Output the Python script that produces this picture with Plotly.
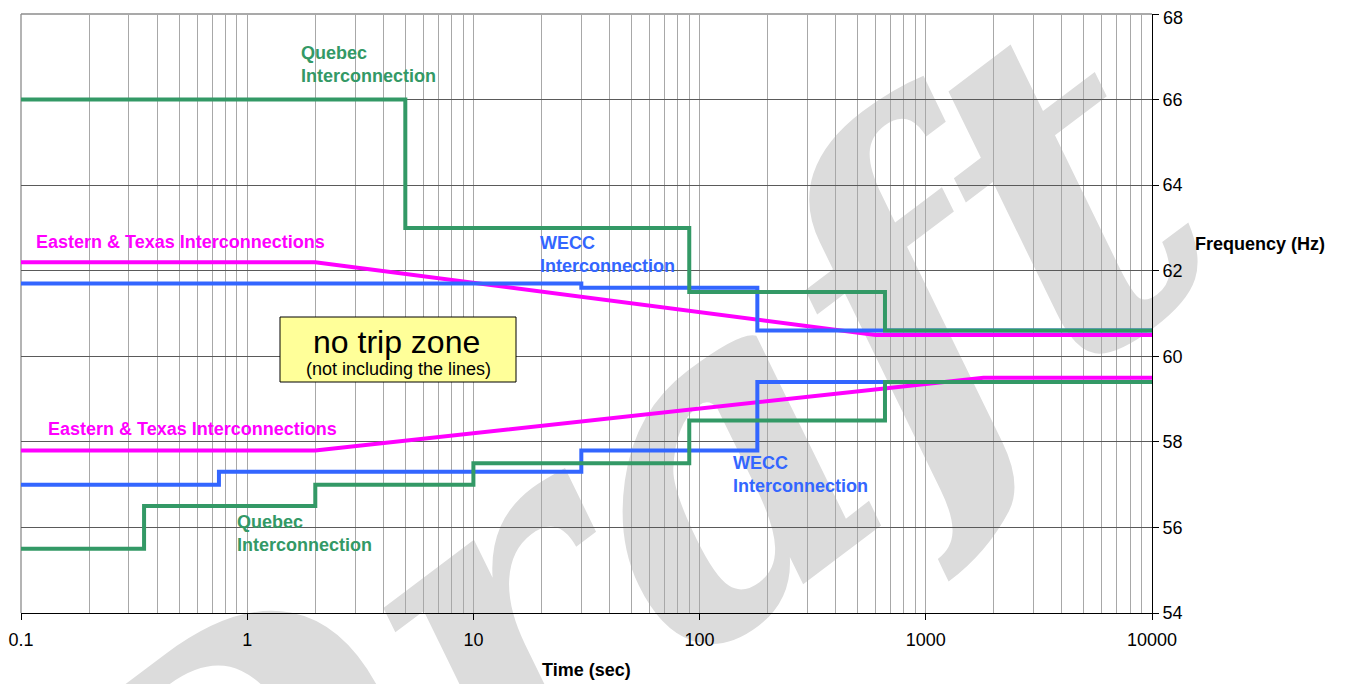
import plotly.graph_objects as go

# ---------------- data ----------------
quebec_hi_t = [0.1, 5, 90, 660, 10000]
quebec_hi_f = [66.0, 63.0, 61.5, 60.6, 60.6]
quebec_lo_t = [0.1, 0.35, 2, 10, 90, 660, 10000]
quebec_lo_f = [55.5, 56.5, 57.0, 57.5, 58.5, 59.4, 59.4]

wecc_hi_t = [0.1, 30, 180, 10000]
wecc_hi_f = [61.7, 61.6, 60.6, 60.6]
wecc_lo_t = [0.1, 0.75, 30, 180, 10000]
wecc_lo_f = [57.0, 57.3, 57.8, 59.4, 59.4]

east_hi_t = [0.1, 2, 600, 10000]
east_hi_f = [62.2, 62.2, 60.5, 60.5]
east_lo_t = [0.1, 2, 1800, 10000]
east_lo_f = [57.8, 57.8, 59.5, 59.5]

x_tickvals = [0.1, 1, 10, 100, 1000, 10000]
x_ticktext = ["0.1", "1", "10", "100", "1000", "10000"]
x_minor = [m * d for d in [0.1, 1, 10, 100, 1000] for m in range(2, 10)]
y_tickvals = [54, 56, 58, 60, 62, 64, 66, 68]
y_ticktext = ["54", "56", "58", "60", "62", "64", "66", ""]
y_top_label = "68"

# ---------------- styling ----------------
GREEN = "#339966"
PINK = "#FF00FF"
BLUE = "#3366FF"
FONT = "Liberation Sans, Arial, sans-serif"

OFF = 8                      # page body margin
W, H = 1345 - OFF, 684 - OFF
SPL, SPR, SPT, SPB = 21, 1152, 14, 613   # plot area in screen pixels


def px(x):
    return (x - SPL) / (SPR - SPL)


def py(y):
    return (SPB - y) / (SPB - SPT)


fig = go.Figure()
fig.add_trace(go.Scatter(x=east_hi_t, y=east_hi_f, mode="lines",
                         line=dict(color=PINK, width=4), hoverinfo="skip"))
fig.add_trace(go.Scatter(x=east_lo_t, y=east_lo_f, mode="lines",
                         line=dict(color=PINK, width=4), hoverinfo="skip"))
fig.add_trace(go.Scatter(x=wecc_hi_t, y=wecc_hi_f, mode="lines",
                         line=dict(color=BLUE, width=4, shape="hv"), hoverinfo="skip"))
fig.add_trace(go.Scatter(x=wecc_lo_t, y=wecc_lo_f, mode="lines",
                         line=dict(color=BLUE, width=4, shape="hv"), hoverinfo="skip"))
fig.add_trace(go.Scatter(x=quebec_hi_t, y=quebec_hi_f, mode="lines",
                         line=dict(color=GREEN, width=4, shape="hv"), hoverinfo="skip"))
fig.add_trace(go.Scatter(x=quebec_lo_t, y=quebec_lo_f, mode="lines",
                         line=dict(color=GREEN, width=4, shape="hv"), hoverinfo="skip"))

# watermark
fig.add_shape(type="rect", xref="paper", yref="paper",
              x0=px(540), x1=px(660), y0=py(545), y1=py(465),
              line=dict(width=0), fillcolor="rgba(0,0,0,0)", layer="below",
              label=dict(text="Draft", textangle=-37, textposition="middle center",
                         font=dict(family="DejaVu Serif, serif", size=450,
                                   color="#dcdcdc", style="italic", weight="bold")))

# no trip zone box
fig.add_shape(type="rect", xref="paper", yref="paper",
              x0=px(280), x1=px(516), y0=py(382), y1=py(317),
              line=dict(color="black", width=1), fillcolor="#FFFF99", layer="above")

ann = []


def label(x, y, text, color, size=18, bold=True, xanchor="left"):
    ann.append(dict(x=px(x), y=py(y), xref="paper", yref="paper", text=text,
                    showarrow=False, xanchor=xanchor, yanchor="middle", align="left",
                    font=dict(family=FONT, size=size, color=color,
                              weight="bold" if bold else "normal")))


label(299, 65, "Quebec<br>Interconnection", GREEN)
label(34, 242, "Eastern & Texas Interconnections", PINK)
label(538, 254.5, "WECC<br>Interconnection", BLUE)
label(46, 429, "Eastern & Texas Interconnections", PINK)
label(731, 474.5, "WECC<br>Interconnection", BLUE)
label(235, 533.5, "Quebec<br>Interconnection", GREEN)
label(396, 342, "no trip zone", "black", size=32, bold=False, xanchor="center")
label(398, 369, "(not including the lines)", "black", size=18, bold=False, xanchor="center")
label(586, 670, "Time (sec)", "black", size=18, xanchor="center")
label(1260, 244, "Frequency (Hz)", "black", size=18, xanchor="center")
label(1161, 18.5, y_top_label, "black", size=18, bold=False)

fig.update_layout(
    width=W, height=H,
    margin=dict(l=SPL - OFF, r=W - (SPR - OFF), t=SPT - OFF, b=H - (SPB - OFF),
                autoexpand=False),
    paper_bgcolor="white", plot_bgcolor="rgba(0,0,0,0)",
    showlegend=False,
    font=dict(family=FONT, size=18, color="black"),
    annotations=ann,
)
fig.update_xaxes(
    type="log", range=[-1, 4], automargin=False,
    tickvals=x_tickvals, ticktext=x_ticktext,
    ticks="outside", ticklen=6, tickcolor="black", tickwidth=1,
    ticklabelstandoff=4, ticklabeloverflow="allow",
    showgrid=True, gridcolor="#a8a8a8", gridwidth=1.3,
    minor=dict(tickvals=x_minor, showgrid=True, gridcolor="#a8a8a8", gridwidth=1.3, ticks=""),
    showline=True, linecolor="black", linewidth=1,
    zeroline=False, tickfont=dict(size=18),
)
fig.update_yaxes(
    range=[54, 68], side="right", tickvals=y_tickvals, ticktext=y_ticktext,
    automargin=False,
    ticks="outside", ticklen=6, tickcolor="black", tickwidth=1,
    ticklabeloverflow="allow",
    showgrid=True, gridcolor="#5a5a5a", gridwidth=1,
    showline=True, linecolor="black", linewidth=1,
    zeroline=False, tickfont=dict(size=18),
)
# top and left border
fig.add_shape(type="line", xref="paper", yref="paper", x0=0, x1=1, y0=1, y1=1,
              line=dict(color="#8c8c8c", width=1.3), layer="below")
fig.add_shape(type="line", xref="paper", yref="paper", x0=0, x1=0, y0=0, y1=1,
              line=dict(color="#8c8c8c", width=1.3), layer="below")

fig.write_html("out.html")
